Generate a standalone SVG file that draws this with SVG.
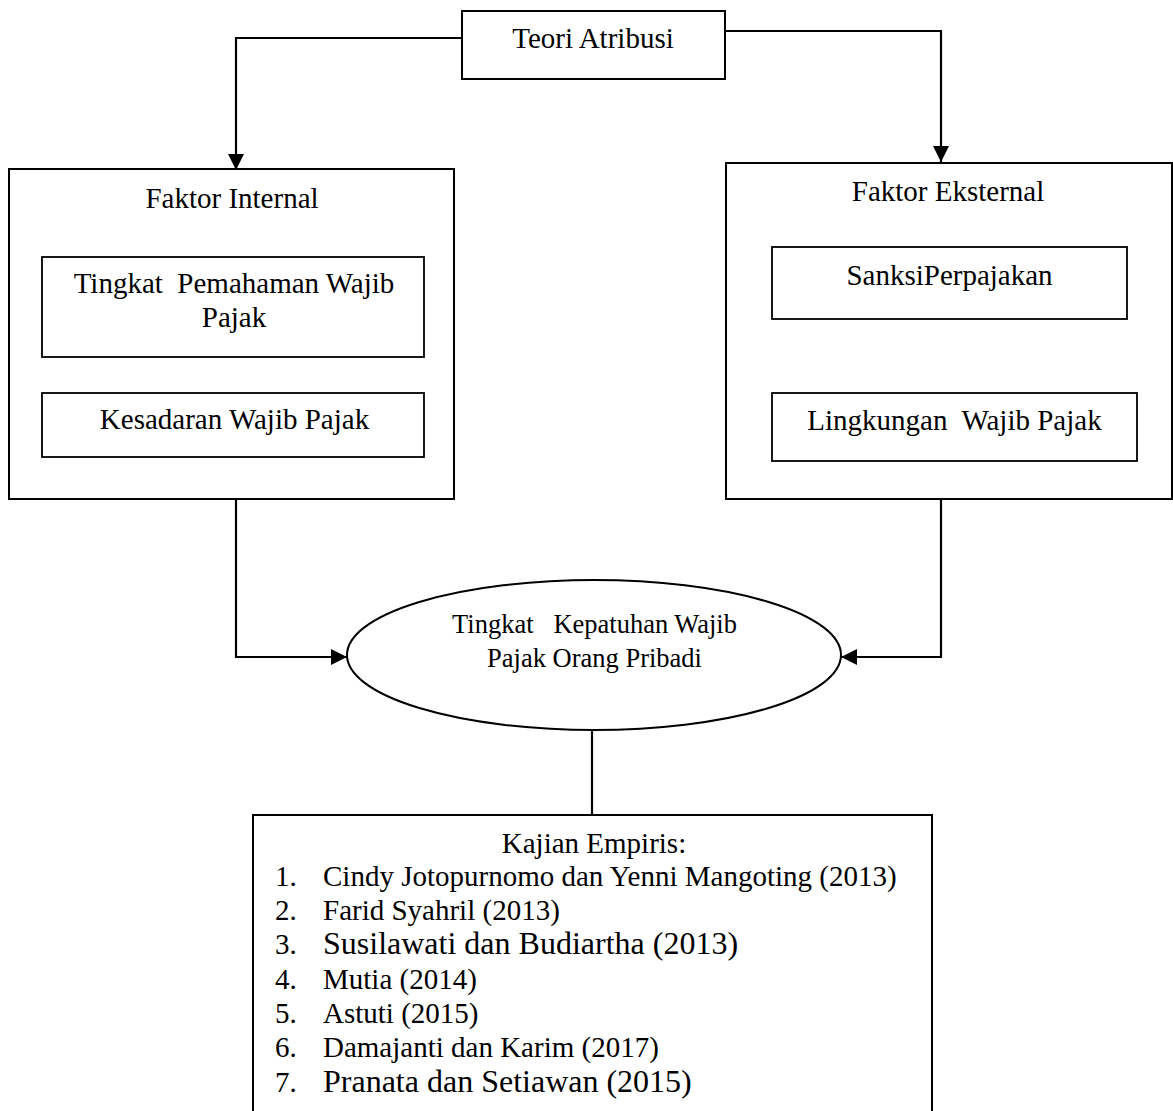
<svg xmlns="http://www.w3.org/2000/svg" width="1173" height="1111" viewBox="0 0 1173 1111">
<style>
text{font-family:"Liberation Serif","Times New Roman",serif;fill:#000;white-space:pre}
.c{text-anchor:middle}
.f29{font-size:29px}
.f32{font-size:32px}
.f26{font-size:26.5px}
.box{fill:#fff;stroke:#000;stroke-width:2}
.inner{fill:#fff;stroke:#000;stroke-width:1.8}
.conn{fill:none;stroke:#000;stroke-width:2.2}
</style>
<defs>
<marker id="arr" markerUnits="userSpaceOnUse" markerWidth="16" markerHeight="16" viewBox="0 0 16 16" refX="16" refY="8" orient="auto">
<path d="M0,0 L16,8 L0,16 z" fill="#000"/>
</marker>
</defs>
<rect width="1173" height="1111" fill="#fff"/>
<g id="connectors">
<path class="conn" d="M462,38 H236 V170" marker-end="url(#arr)"/>
<path class="conn" d="M725,31 H941 V162" marker-end="url(#arr)"/>
<path class="conn" d="M236,499 V657 H347" marker-end="url(#arr)"/>
<path class="conn" d="M941,499 V657 H841" marker-end="url(#arr)"/>
<path class="conn" d="M592,730 V815"/>
</g>
<g id="teori">
<rect class="box" x="462" y="11" width="263" height="68"/>
<text class="c f29" x="593" y="48">Teori Atribusi</text>
</g>
<g id="faktor-internal">
<rect class="box" x="9" y="169" width="445" height="330"/>
<text class="c f29" x="232" y="208">Faktor Internal</text>
</g>
<g id="pemahaman">
<rect class="inner" x="42" y="257" width="382" height="100"/>
<text class="c f29" x="234" y="293">Tingkat  Pemahaman Wajib</text>
<text class="c f29" x="234" y="327">Pajak</text>
</g>
<g id="kesadaran">
<rect class="inner" x="42" y="393" width="382" height="64"/>
<text class="c f29" x="234.5" y="429">Kesadaran Wajib Pajak</text>
</g>
<g id="faktor-eksternal">
<rect class="box" x="726" y="163" width="446" height="336"/>
<text class="c f29" x="948" y="201">Faktor Eksternal</text>
</g>
<g id="sanksi">
<rect class="inner" x="772" y="247" width="355" height="72"/>
<text class="c f29" x="949.5" y="285">SanksiPerpajakan</text>
</g>
<g id="lingkungan">
<rect class="inner" x="772" y="393" width="365" height="68"/>
<text class="c f29" x="954.5" y="430">Lingkungan  Wajib Pajak</text>
</g>
<g id="kepatuhan">
<ellipse class="box" cx="594" cy="655" rx="247" ry="75"/>
<text class="c f26" x="594.5" y="633">Tingkat   Kepatuhan Wajib</text>
<text class="c f26" x="594.5" y="667">Pajak Orang Pribadi</text>
</g>
<g id="kajian">
<path class="box" d="M253,1114 V815 H932 V1114"/>
<text class="c f29" x="594" y="853">Kajian Empiris:</text>
<text class="f29" x="275" y="886">1.</text><text class="f29" x="323" y="886">Cindy Jotopurnomo dan Yenni Mangoting (2013)</text>
<text class="f29" x="275" y="920">2.</text><text class="f29" x="323" y="920">Farid Syahril (2013)</text>
<text class="f29" x="275" y="954">3.</text><text class="f32" x="323" y="954">Susilawati dan Budiartha (2013)</text>
<text class="f29" x="275" y="989">4.</text><text class="f29" x="323" y="989">Mutia (2014)</text>
<text class="f29" x="275" y="1023">5.</text><text class="f29" x="323" y="1023">Astuti (2015)</text>
<text class="f29" x="275" y="1057">6.</text><text class="f29" x="323" y="1057">Damajanti dan Karim (2017)</text>
<text class="f29" x="275" y="1092">7.</text><text class="f32" x="323" y="1092">Pranata dan Setiawan (2015)</text>
</g>
</svg>
